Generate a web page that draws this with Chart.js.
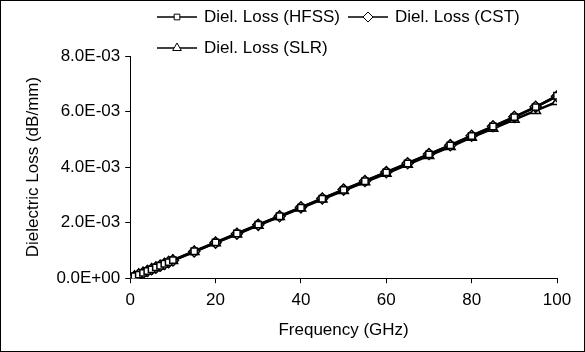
<!DOCTYPE html>
<html lang="en">
<head>
    <meta charset="UTF-8">
    <title>Dielectric Loss</title>
    <script src="https://cdn.jsdelivr.net/npm/chart.js"></script>
    <style>
        body { margin: 0; background: #fff; }
        #wrap { width: 585px; height: 352px; position: relative; }
    </style>
</head>
<body>
    <div id="wrap"><canvas id="lossChart" width="585" height="352"></canvas></div>

    <script>
        // frequency points (GHz)
        const freq = [1, 2, 3, 4, 5, 6, 7, 8, 9, 10, 15, 20, 25, 30, 35, 40, 45, 50, 55, 60, 65, 70, 75, 80, 85, 90, 95, 100];

        // dielectric loss, in 1E-03 dB/mm
        const lossHFSS = [0.07, 0.13, 0.19, 0.26, 0.32, 0.39, 0.45, 0.52, 0.58, 0.65, 0.97, 1.29, 1.61, 1.93, 2.23, 2.54, 2.86, 3.18, 3.49, 3.81, 4.13, 4.46, 4.78, 5.12, 5.46, 5.80, 6.16, 6.57];
        const lossCST  = [0.06, 0.13, 0.19, 0.26, 0.32, 0.38, 0.45, 0.51, 0.58, 0.64, 0.96, 1.28, 1.60, 1.92, 2.23, 2.55, 2.87, 3.19, 3.50, 3.82, 4.14, 4.47, 4.79, 5.13, 5.47, 5.81, 6.17, 6.55];
        const lossSLR  = [0.06, 0.13, 0.19, 0.25, 0.32, 0.38, 0.44, 0.51, 0.57, 0.63, 0.95, 1.27, 1.58, 1.90, 2.21, 2.52, 2.84, 3.15, 3.46, 3.77, 4.09, 4.41, 4.73, 5.07, 5.39, 5.71, 6.03, 6.35];

        const seriesNames = ['Diel. Loss (HFSS)', 'Diel. Loss (CST)', 'Diel. Loss (SLR)'];
        const markers = ['rect', 'rectRot', 'triangle'];

        const yTicks = [0, 0.002, 0.004, 0.006, 0.008];
        const xTicks = [0, 20, 40, 60, 80, 100];

        const FONT = '"Liberation Sans", Arial, sans-serif';
        const FSIZE = 17;

        function toPoints(vals) {
            return freq.map((f, i) => ({ x: f, y: vals[i] / 1000 }));
        }

        function sciLabel(v) {
            // 8.0E-03 style, like the spreadsheet
            const [m, e] = v.toExponential(1).split('e');
            const n = parseInt(e, 10);
            const sign = n < 0 ? '-' : '+';
            return m + 'E' + sign + String(Math.abs(n)).padStart(2, '0');
        }

        const series = [lossHFSS, lossCST, lossSLR].map((vals, i) => ({
            label: seriesNames[i],
            data: toPoints(vals),
            showLine: true,
            borderColor: '#000',
            borderWidth: 2.5,
            backgroundColor: '#fff',
            pointStyle: markers[i],
            pointRadius: i === 0 ? 4.5 : 5.5,
            pointBorderColor: '#000',
            pointBorderWidth: 1.5,
            pointBackgroundColor: '#fff'
        }));

        // legend drawn by hand: line with the marker in the middle
        const legendSpots = [
            { x: 157, y: 17 },
            { x: 348, y: 17 },
            { x: 157, y: 48 }
        ];

        const lineLegend = {
            id: 'lineLegend',
            afterDraw(chart) {
                const ctx = chart.ctx;
                ctx.save();
                chart.data.datasets.forEach((ds, i) => {
                    const p = legendSpots[i];
                    ctx.strokeStyle = '#000';
                    ctx.lineWidth = 1.5;
                    ctx.beginPath();
                    ctx.moveTo(p.x, p.y);
                    ctx.lineTo(p.x + 40, p.y);
                    ctx.stroke();
                    ctx.fillStyle = '#fff';
                    ctx.lineWidth = 1;
                    Chart.helpers.drawPoint(ctx, {
                        pointStyle: ds.pointStyle,
                        radius: ds.pointStyle === 'rect' ? 4 : 5,
                        rotation: 0,
                        borderWidth: 1
                    }, p.x + 20, p.y);
                    ctx.fillStyle = '#000';
                    ctx.font = FSIZE + 'px ' + FONT;
                    ctx.textBaseline = 'middle';
                    ctx.textAlign = 'left';
                    ctx.fillText(ds.label, p.x + 47, p.y);
                });
                // outer frame
                ctx.strokeStyle = '#000';
                ctx.lineWidth = 1;
                ctx.strokeRect(0.5, 0.5, chart.width - 1, chart.height - 1);
                ctx.restore();
            }
        };

        const ctx = document.getElementById('lossChart').getContext('2d');
        new Chart(ctx, {
            type: 'scatter',
            data: { datasets: series },
            options: {
                responsive: false,
                animation: false,
                layout: { padding: { top: 56, right: 28, bottom: 11, left: 23 } },
                plugins: {
                    legend: { display: false },
                    tooltip: { enabled: false }
                },
                scales: {
                    x: {
                        type: 'linear',
                        min: 0,
                        max: 100,
                        afterBuildTicks: axis => { axis.ticks = xTicks.map(v => ({ value: v })); },
                        grid: { drawOnChartArea: false, tickLength: 5, color: '#000' },
                        border: { color: '#000', width: 1 },
                        ticks: { color: '#000', font: { family: FONT, size: FSIZE }, padding: 7, maxRotation: 0 },
                        title: { display: true, text: 'Frequency (GHz)', color: '#000', font: { family: FONT, size: FSIZE }, padding: { top: 3, bottom: 0 } }
                    },
                    y: {
                        type: 'linear',
                        min: 0,
                        max: 0.008,
                        afterBuildTicks: axis => { axis.ticks = yTicks.map(v => ({ value: v })); },
                        grid: { drawOnChartArea: false, tickLength: 5, color: '#000' },
                        border: { color: '#000', width: 1 },
                        ticks: { color: '#000', font: { family: FONT, size: FSIZE }, padding: 5, callback: v => sciLabel(v) },
                        title: { display: true, text: 'Dielectric Loss (dB/mm)', color: '#000', font: { family: FONT, size: FSIZE }, padding: { top: 0, bottom: 8 } }
                    }
                }
            },
            plugins: [lineLegend]
        });
    </script>
</body>
</html>
